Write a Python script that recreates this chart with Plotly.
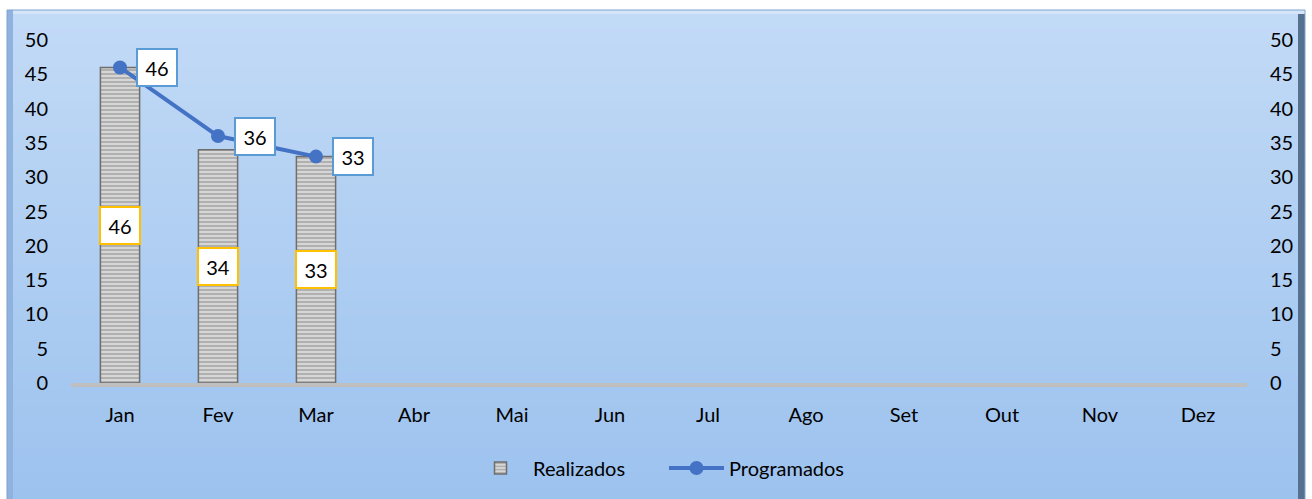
import plotly.graph_objects as go

meses = ["Jan", "Fev", "Mar", "Abr", "Mai", "Jun", "Jul", "Ago", "Set", "Out", "Nov", "Dez"]
realizados = [46, 34, 33, None, None, None, None, None, None, None, None, None]
programados = [46, 36, 33, None, None, None, None, None, None, None, None, None]
ticks_y = [0, 5, 10, 15, 20, 25, 30, 35, 40, 45, 50]

W, H = 1312, 499
L, R, T, B = 71, 65, 40, 116
PW, PH = W - L - R, H - T - B
FONT = "Lato, 'Open Sans', sans-serif"
FS = 20


def px_x(p):
    return (p - L) / PW


def px_y(p):
    return (H - B - p) / PH


fig = go.Figure()

fig.add_trace(go.Bar(
    x=meses, y=realizados, name="Realizados", width=0.4,
    marker=dict(
        color="#c8c8c8",
        line=dict(color="#6e6e6e", width=1.5),
        pattern=dict(shape="-", fgcolor="#8a8a8a", bgcolor="#d6d6d6", size=4, solidity=0.5),
    ),
))

fig.add_trace(go.Scatter(
    x=meses, y=programados, name="Programados", mode="lines+markers", yaxis="y2",
    line=dict(color="#4472C4", width=4),
    marker=dict(color="#4472C4", size=14),
))

shapes = []
# outer frame with bevel and vertical blue gradient
x0f, x1f, y0f, y1f = 7, 1305, 10, 505
n = 60
top_c = (0xC2, 0xDA, 0xF6)
bot_c = (0x9C, 0xC2, 0xEE)
for i in range(n):
    t = i / (n - 1)
    c = tuple(round(top_c[k] + (bot_c[k] - top_c[k]) * t) for k in range(3))
    ya = y0f + (y1f - y0f) * i / n
    yb = y0f + (y1f - y0f) * (i + 1) / n + 1
    shapes.append(dict(type="rect", xref="paper", yref="paper", layer="below",
                       x0=px_x(x0f), x1=px_x(x1f), y0=px_y(ya), y1=px_y(yb),
                       fillcolor="rgb(%d,%d,%d)" % c, line=dict(width=0)))
# bevel edges
shapes.append(dict(type="rect", xref="paper", yref="paper", layer="below",
                   x0=px_x(x0f), x1=px_x(x1f), y0=px_y(y0f), y1=px_y(y0f + 4),
                   fillcolor="#d4e5f9", line=dict(width=0)))
shapes.append(dict(type="rect", xref="paper", yref="paper", layer="below",
                   x0=px_x(x0f), x1=px_x(x0f + 6), y0=px_y(y0f), y1=px_y(y1f),
                   fillcolor="#8fb3de", line=dict(width=0)))
shapes.append(dict(type="rect", xref="paper", yref="paper", layer="below",
                   x0=px_x(x1f - 7), x1=px_x(x1f), y0=px_y(y0f + 4), y1=px_y(y1f),
                   fillcolor="#56718f", line=dict(width=0)))
shapes.append(dict(type="rect", xref="paper", yref="paper", layer="below",
                   x0=px_x(x0f), x1=px_x(x1f), y0=px_y(y0f), y1=px_y(y1f),
                   fillcolor="rgba(0,0,0,0)", line=dict(color="#7fa3cf", width=1)))

annotations = []
for m, v in zip(meses, realizados):
    if v is None:
        continue
    annotations.append(dict(
        x=m, y=v / 2, xref="x", yref="y", text=str(v), showarrow=False,
        bgcolor="white", bordercolor="#FFC000", borderwidth=2,
        width=36, height=33, font=dict(family=FONT, size=FS, color="black"),
    ))
for m, v in zip(meses, programados):
    if v is None:
        continue
    annotations.append(dict(
        x=m, y=v, xref="x", yref="y2", text=str(v), showarrow=False,
        xanchor="left", xshift=16,
        bgcolor="white", bordercolor="#5B9BD5", borderwidth=2,
        width=36, height=33, font=dict(family=FONT, size=FS, color="black"),
    ))

axis_common = dict(range=[0, 50], tickvals=ticks_y, showgrid=False, zeroline=False,
                   ticks="", tickfont=dict(family=FONT, size=FS, color="black"),
                   ticklabelstandoff=22)

fig.update_layout(
    width=W, height=H,
    margin=dict(l=L, r=R, t=T, b=B, autoexpand=False),
    paper_bgcolor="white", plot_bgcolor="rgba(0,0,0,0)",
    font=dict(family=FONT, size=FS, color="black"),
    barmode="overlay",
    xaxis=dict(showline=True, linecolor="#BFBFBF", linewidth=4, ticks="", showgrid=False,
               tickfont=dict(family=FONT, size=FS, color="black"), ticklabelstandoff=11,
               categoryorder="array", categoryarray=meses, range=[-0.5, 11.5]),
    yaxis=dict(side="left", **axis_common),
    yaxis2=dict(side="right", overlaying="y", **axis_common),
    legend=dict(orientation="h", x=px_x(664), xanchor="center", y=px_y(468), yanchor="middle",
                bgcolor="rgba(0,0,0,0)", font=dict(family=FONT, size=FS, color="black"),
                itemwidth=55, entrywidth=126, entrywidthmode="pixels", traceorder="normal"),
    shapes=shapes, annotations=annotations,
)

fig.write_html("out.html")
